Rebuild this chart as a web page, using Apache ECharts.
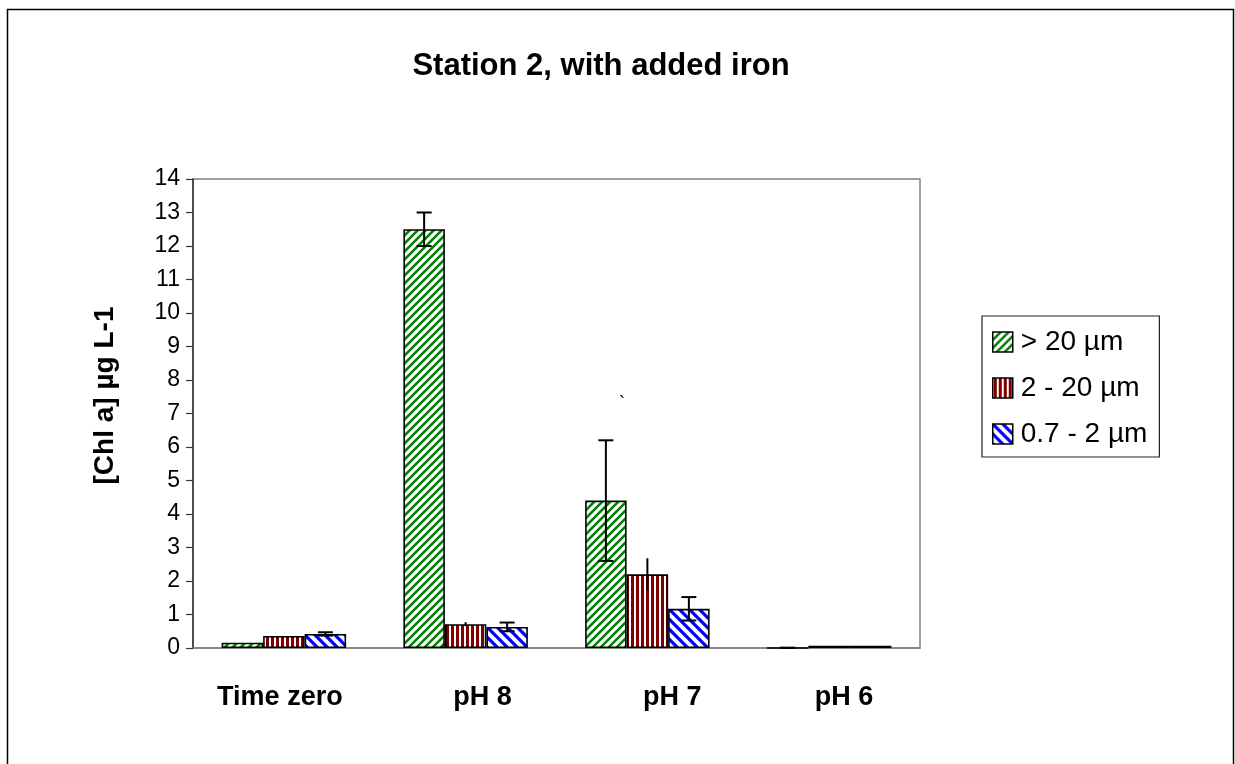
<!DOCTYPE html>
<html>
<head>
<meta charset="utf-8">
<script src="https://cdn.jsdelivr.net/npm/echarts@6/dist/echarts.min.js"></script>
<style>
html,body{margin:0;padding:0;background:#fff;}
#chart{width:1235px;height:764px;}
</style>
</head>
<body>
<div id="chart"></div>
<script>
const categories = ['Time zero', 'pH 8', 'pH 7', 'pH 6'];
const seriesNames = ['> 20 µm', '2 - 20 µm', '0.7 - 2 µm'];
const large = [0.16, 12.5, 4.4, 0];
const largeErr = [0, 0.5, 1.8, 0.01];
const medium = [0.36, 0.71, 2.2, 0.07];
const mediumErr = [0, 0.06, 0.48, 0];
const small = [0.42, 0.63, 1.17, 0.07];
const smallErr = [0.05, 0.13, 0.35, 0];
const yMin = 0, yMax = 14, yInterval = 1;

function makePattern(kind, color) {
  const c = document.createElement('canvas');
  let s = kind === 'v' ? 5 : (kind === 'd1' ? 8 : 10);
  c.width = s; c.height = s;
  const g = c.getContext('2d');
  g.fillStyle = '#fff'; g.fillRect(0, 0, s, s);
  g.strokeStyle = color; g.fillStyle = color;
  if (kind === 'v') {
    g.fillRect(1, 0, 3, s);
  } else {
    g.lineWidth = kind === 'd1' ? 2.6 : 3.2;
    g.lineCap = 'square';
    g.beginPath();
    if (kind === 'd1') {
      for (let k = -1; k <= 1; k++) {
        g.moveTo(k * s - 1, s + 1); g.lineTo(k * s + s + 1, -1);
      }
    } else {
      for (let k = -1; k <= 1; k++) {
        g.moveTo(k * s - 1, -1); g.lineTo(k * s + s + 1, s + 1);
      }
    }
    g.stroke();
  }
  return { image: c, repeat: 'repeat' };
}

const fills = [
  makePattern('d1', '#008000'),
  makePattern('v', '#800000'),
  makePattern('d2', '#0000ff')
];
const values = [large, medium, small];
const errs = [largeErr, mediumErr, smallErr];
const caps = [true, false, true];
const gapPct = 31.5;

const chart = echarts.init(document.getElementById('chart'));
const series = [];
values.forEach((v, i) => {
  series.push({
    name: seriesNames[i], type: 'bar', data: v,
    barGap: '0%', barCategoryGap: gapPct + '%',
    itemStyle: { color: fills[i], borderColor: '#000', borderWidth: 1.6 },
    emphasis: { disabled: true }, z: 2
  });
});
values.forEach((v, i) => {
  const data = v.map((val, j) => [j, Math.max(0, val - errs[i][j]), val + errs[i][j], errs[i][j]]);
  series.push({
    type: 'custom', name: seriesNames[i] + ' err', data: data, z: 5, silent: true,
    renderItem: function (params, api) {
      if (api.value(3) <= 0) return null;
      const band = api.size([1, 0])[0];
      const bw = band * (1 - gapPct / 100) / 3;
      const base = api.coord([api.value(0), api.value(1)]);
      const top = api.coord([api.value(0), api.value(2)]);
      const x = base[0] + (i - 1) * bw;
      const st = { stroke: '#000', lineWidth: 2 };
      const ch = [{ type: 'line', shape: { x1: x, y1: base[1], x2: x, y2: top[1] }, style: st }];
      if (caps[i]) {
        ch.push({ type: 'line', shape: { x1: x - 7.5, y1: base[1], x2: x + 7.5, y2: base[1] }, style: st });
        ch.push({ type: 'line', shape: { x1: x - 7.5, y1: top[1], x2: x + 7.5, y2: top[1] }, style: st });
      }
      return { type: 'group', children: ch };
    },
    encode: { x: 0, y: [1, 2] }
  });
});

const labelShift = { 'Time zero': 'a', 'pH 8': 'b', 'pH 7': 'c', 'pH 6': 'd' };
const lbl = { fontSize: 27, fontWeight: 'bold', color: '#000', fontFamily: 'Liberation Sans' };

chart.setOption({
  animation: false,
  backgroundColor: '#fff',
  textStyle: { fontFamily: 'Liberation Sans, Arial, sans-serif' },
  title: {
    text: 'Station 2, with added iron', left: 596, top: 46, textAlign: 'center',
    textStyle: { fontSize: 31, fontWeight: 'bold', color: '#000', fontFamily: 'Liberation Sans' }
  },
  legend: {
    data: seriesNames, orient: 'vertical', left: 982, top: 316,
    itemWidth: 20, itemHeight: 20, itemGap: 18,
    padding: [12, 12, 9, 10], borderColor: '#222', borderWidth: 1.2,
    icon: 'rect',
    itemStyle: { borderColor: '#000', borderWidth: 1.5 },
    textStyle: { fontSize: 28, color: '#000', fontFamily: 'Liberation Sans', padding: [0, 0, 0, 3] }
  },
  grid: { left: 193, top: 179, right: 315, bottom: 116, show: true, borderColor: '#808080', borderWidth: 1.5, backgroundColor: 'transparent' },
  xAxis: {
    type: 'category', data: categories,
    axisLine: { lineStyle: { color: '#808080', width: 1.5 } },
    axisTick: { show: false },
    axisLabel: {
      interval: 0, hideOverlap: false,
      margin: 36, color: '#000', fontSize: 27, fontWeight: 'bold', fontFamily: 'Liberation Sans',
      formatter: function (v) { return '{' + labelShift[v] + '|' + v + '}'; },
      rich: {
        a: Object.assign({ padding: [0, 8, 0, 0] }, lbl),
        b: Object.assign({ padding: [0, 0, 0, 34] }, lbl),
        c: Object.assign({ padding: [0, 0, 0, 50] }, lbl),
        d: Object.assign({ padding: [0, 0, 0, 30] }, lbl)
      }
    }
  },
  yAxis: {
    type: 'value', min: yMin, max: yMax, interval: yInterval,
    name: '[Chl a] µg L-1', nameLocation: 'middle', nameGap: 74, nameRotate: 90,
    nameTextStyle: { fontSize: 28, fontWeight: 'bold', color: '#000', fontFamily: 'Liberation Sans', padding: [0, 0, 0, 36] },
    splitLine: { show: false },
    axisLine: { show: true, lineStyle: { color: '#333', width: 1.5 } },
    axisTick: { show: true, length: 7, lineStyle: { color: '#333', width: 1.2 } },
    axisLabel: { color: '#000', fontSize: 23, margin: 13, fontFamily: 'Liberation Sans' }
  },
  graphic: [
    { type: 'rect', shape: { x: 7.5, y: 9.5, width: 1226, height: 800 }, style: { fill: 'none', stroke: '#000', lineWidth: 1.5 }, z: -1 },
    { type: 'text', left: 619, top: 395, style: { text: '`', fontSize: 18, fill: '#000', fontFamily: 'Liberation Sans' } }
  ],
  series: series
});
</script>
</body>
</html>
